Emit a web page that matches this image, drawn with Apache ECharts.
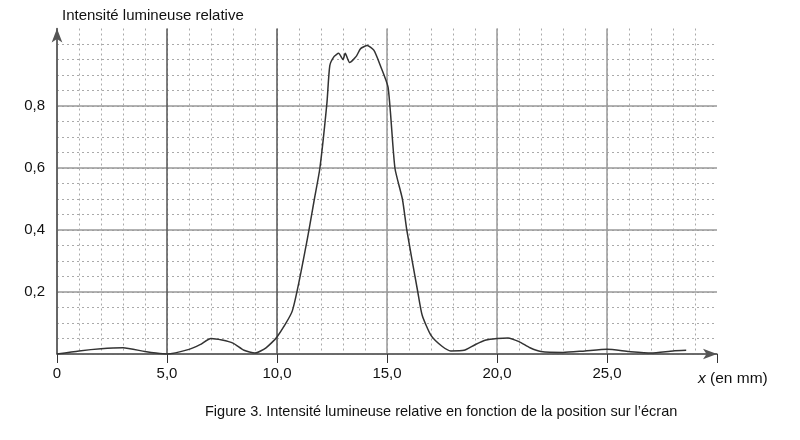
<!DOCTYPE html>
<html><head><meta charset="utf-8">
<script src="https://cdn.jsdelivr.net/npm/echarts@6/dist/echarts.min.js"></script>
<style>html,body{margin:0;background:#fff}#c{width:800px;height:440px}</style></head>
<body><div id="c"></div>
<script>
const xPos = [0,1,2,3,4,4.5,5,6,6.5,7,7.5,8,8.5,9,9.5,10,10.7,11.35,11.7,11.95,12.27,12.4,12.6,12.8,13.0,13.1,13.3,13.6,13.8,14.1,14.4,14.7,15.05,15.36,15.7,15.9,16.4,16.6,17.0,17.5,17.9,18.5,19,19.5,20,20.5,21,21.5,22,23,24,25,26,27,28,28.6];
const intensity = [0,0.01,0.017,0.02,0.008,0.003,0,0.015,0.03,0.05,0.045,0.035,0.012,0.003,0.02,0.055,0.14,0.36,0.5,0.6,0.81,0.93,0.96,0.97,0.95,0.97,0.94,0.96,0.985,0.995,0.98,0.93,0.86,0.6,0.5,0.4,0.2,0.125,0.06,0.025,0.01,0.012,0.03,0.045,0.05,0.052,0.04,0.02,0.008,0.005,0.01,0.015,0.008,0.003,0.01,0.012];
const yTicks = {0.2:'0,2',0.4:'0,4',0.6:'0,6',0.8:'0,8'};
const xTicks = {0:'0',5:'5,0',10:'10,0',15:'15,0',20:'20,0',25:'25,0'};
const data = xPos.map((x,i)=>[x,intensity[i]]);
const ch = echarts.init(document.getElementById('c'));
const font = 'Liberation Sans, Arial, sans-serif';
ch.setOption({
  animation:false,
  textStyle:{fontFamily:font},
  graphic:[
    {type:'text',left:62,top:8,style:{text:'Intensité lumineuse relative',fontSize:15,fontFamily:font,fill:'#111'}},
    {type:'text',left:205,top:404,style:{text:'Figure 3. Intensité lumineuse relative en fonction de la position sur l’écran',fontSize:14.5,fontFamily:font,fill:'#111'}},
    {type:'text',left:698,top:371,style:{text:'{i|x} (en mm)',fontSize:15.5,fontFamily:font,fill:'#111',rich:{i:{fontStyle:'italic',fontSize:15.5,fontFamily:font}}}}
  ],
  grid:{left:57,right:83,top:28.5,bottom:86},
  xAxis:[
    {type:'value',min:0,max:30,interval:1,axisLabel:{show:false},axisTick:{show:false},
     axisLine:{show:true,lineStyle:{color:'#555',width:1.5},symbol:['none','arrow'],symbolSize:[8,14]},
     splitLine:{show:true,showMaxLine:false,lineStyle:{color:'#aaa',type:[2,3],width:1}}},
    {type:'value',min:0,max:30,interval:5,position:'bottom',
     axisLine:{show:false},axisTick:{show:true,inside:false,length:9,lineStyle:{color:'#333'}},
     axisLabel:{fontSize:15,color:'#111',margin:12,formatter:v=>xTicks[v]!==undefined?xTicks[v]:''},
     splitLine:{show:true,showMaxLine:false,lineStyle:{color:['#888','#555','#555','#999','#999','#999','transparent'],width:1.5}}}
  ],
  yAxis:[
    {type:'value',min:0,max:1.05,interval:0.05,axisLabel:{show:false},axisTick:{show:false},
     axisLine:{show:true,lineStyle:{color:'#555',width:1.5},symbol:['none','arrow'],symbolSize:[8,14]},
     splitLine:{show:true,showMaxLine:false,lineStyle:{color:'#aaa',type:[2,3],width:1}}},
    {type:'value',min:0,max:1.05,interval:0.2,position:'left',axisLine:{show:false},axisTick:{show:false},
     axisLabel:{fontSize:15,color:'#111',margin:12,formatter:v=>{const k=Math.round(v*10)/10;return yTicks[k]||'';}},
     splitLine:{show:true,showMaxLine:false,lineStyle:{color:['#999','#999','#999','#999','#999','transparent','transparent'],width:1.5}}}
  ],
  series:[{type:'line',data:data,xAxisIndex:0,yAxisIndex:0,showSymbol:false,smooth:0.2,
    lineStyle:{color:'#333',width:1.5}}]
});
</script></body></html>
